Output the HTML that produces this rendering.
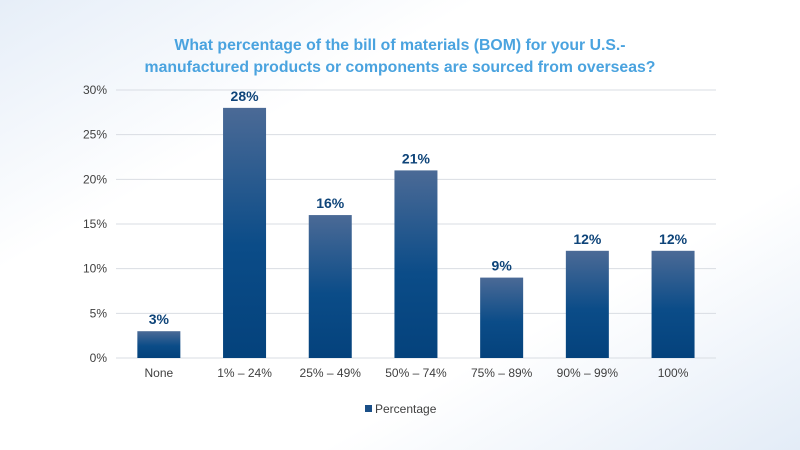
<!DOCTYPE html>
<html><head><meta charset="utf-8"><style>
body{margin:0;width:800px;height:450px;overflow:hidden;background:#f4f7fb;font-family:"Liberation Sans",sans-serif;}
svg{display:block;}
</style></head><body>
<svg width="800" height="450">
<defs>
<linearGradient id="g" x1="0" y1="0" x2="0" y2="1"><stop offset="0" stop-color="#4b6a96"/><stop offset="0.55" stop-color="#0b4c88"/><stop offset="1" stop-color="#04427c"/></linearGradient>
<linearGradient id="bg" x1="0" y1="0" x2="1" y2="1"><stop offset="0" stop-color="#e6eef8"/><stop offset="0.3" stop-color="#ffffff"/><stop offset="0.7" stop-color="#ffffff"/><stop offset="1" stop-color="#e3ecf7"/></linearGradient>
</defs>
<rect width="800" height="450" fill="url(#bg)"/>
<text x="400" y="50" text-anchor="middle" font-size="15.8" font-weight="bold" fill="#4aa3df">What percentage of the bill of materials (BOM) for your U.S.-</text>
<text x="400" y="72" text-anchor="middle" font-size="15.8" font-weight="bold" fill="#4aa3df">manufactured products or components are sourced from overseas?</text>
<g id="grid"></g><g id="bars"></g>
<rect x="365" y="405" width="7" height="7" fill="#1a4f87"/>
<text x="375" y="413" font-size="12" fill="#404040">Percentage</text>
</svg>
<script>
const categories=["None","1% – 24%","25% – 49%","50% – 74%","75% – 89%","90% – 99%","100%"];
const values=[3,28,16,21,9,12,12];
const yTicks=[0,5,10,15,20,25,30];
const NS="http://www.w3.org/2000/svg";
const x0=116,step=85.7,y0=358,yMax=30,plotH=268,bw=43;
const y=v=>y0-v/yMax*plotH;
const xc=i=>x0+step*(i+0.5);
function mk(t,a,p){const e=document.createElementNS(NS,t);for(const k in a)e.setAttribute(k,a[k]);p.appendChild(e);return e;}
const grid=document.getElementById('grid'),bars=document.getElementById('bars');
yTicks.forEach(t=>{
 const l=mk('line',{x1:x0,x2:716,y1:y(t),y2:y(t),stroke:'#d9dde3','stroke-width':1},grid);
 
 
 const tx=mk('text',{x:107,y:y(t)+4,'text-anchor':'end','font-size':12,fill:'#404040'},grid);
 tx.textContent=t+'%';
 
 
});
values.forEach((v,i)=>{
 const r=mk('rect',{x:xc(i)-bw/2,y:y(v),width:bw,height:y0-y(v),fill:'url(#g)'},bars);
 
 
 const lb=mk('text',{x:xc(i),y:y(v)-7,'text-anchor':'middle','font-size':14,'font-weight':'bold',fill:'#0e4479'},bars);
 lb.textContent=v+'%';
 
 
 const c=mk('text',{x:xc(i),y:377,'text-anchor':'middle','font-size':12,fill:'#404040'},bars);
 c.textContent=categories[i];
 
 
});
</script>
</body></html>
